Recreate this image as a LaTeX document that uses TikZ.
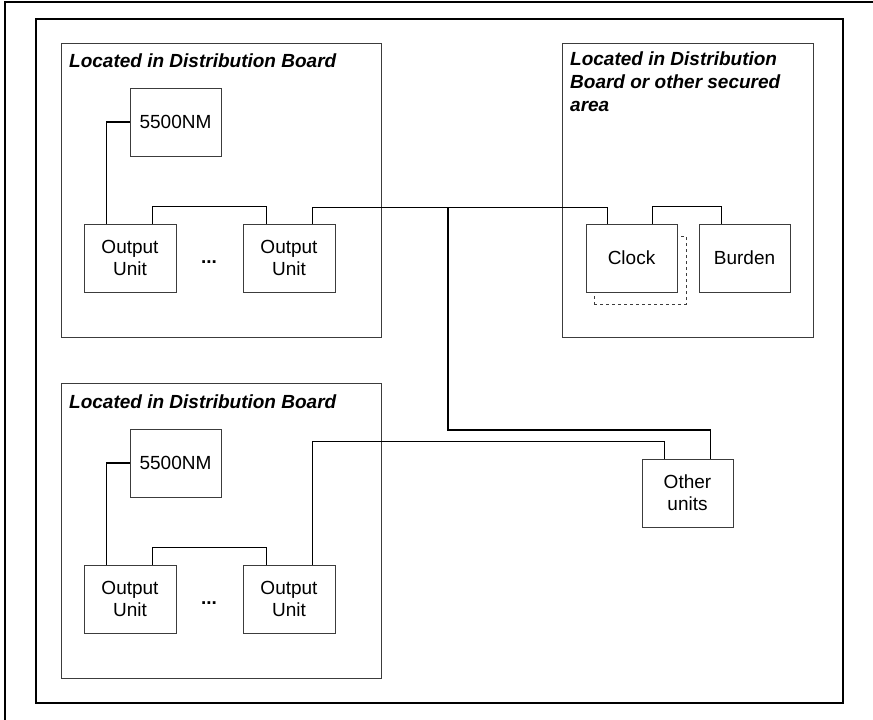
\documentclass[tikz,border=0pt]{standalone}
\usepackage{fontspec}
\setmainfont{Liberation Sans}
\usetikzlibrary{positioning, calc}
\definecolor{boxgray}{RGB}{60, 60, 60}

\begin{document}
\begin{tikzpicture}[
    x=1pt, y=-1pt,
    area/.style={rectangle, draw=boxgray, line width=1pt, minimum width=320pt, minimum height=294pt, inner sep=0pt},
    unit/.style={rectangle, draw=boxgray, fill=white, line width=1pt, minimum width=92pt, minimum height=68pt, align=center, inner sep=0pt, font=\fontsize{19}{22}\selectfont},
    title/.style={anchor=north west, inner sep=0pt, align=left, font=\fontsize{19}{23}\selectfont\bfseries\itshape},
    wire/.style={draw, line width=1.8pt},
    frame/.style={draw, line width=2.4pt}
]
    \useasboundingbox (0,0) rectangle (873,720);
    % Frames
    \draw[frame] (5,720) -- (5,2) -- (873,2);
    \draw[frame] (36,19) rectangle (843,703);

    % Areas
    \node[area] (boardA) at (221,190) {};
    \node[area, minimum width=251pt] (secure) at (687.5,190) {};
    \node[area, minimum height=295pt] (boardB) at (221,530.5) {};

    \node[title] (titleA) at (69,54) {Located in Distribution Board};
    \node[title] (titleS) at (570,52) {Located in Distribution\\Board or other secured\\area};
    \node[title] (titleB) at (69,395) {Located in Distribution Board};

    % Units, upper board
    \node[unit, minimum width=91pt] (nmA) at (175.5,122) {5500NM};
    \node[unit] (ouA1) at (130,258) {Output\\Unit};
    \node[unit] (ouA2) at (289,258) {Output\\Unit};
    \node[font=\fontsize{19}{22}\selectfont\bfseries] (dotsA) at (209,262) {...};

    % Units, lower board
    \node[unit, minimum width=91pt] (nmB) at (175.5,463) {5500NM};
    \node[unit] (ouB1) at (130,599) {Output\\Unit};
    \node[unit] (ouB2) at (289,599) {Output\\Unit};
    \node[font=\fontsize{19}{22}\selectfont\bfseries] (dotsB) at (209,603) {...};

    % Clock and burden
    \node[unit, dashed] (clockbak) at (640,270) {};
    \node[unit, minimum width=91pt] (clock) at (631.5,258) {Clock};
    \node[unit, minimum width=91pt] (burden) at (744.5,258) {Burden};
    \node[unit, minimum width=91pt] (other) at (687.5,493) {Other\\units};

    % Wires
    \draw[wire] (nmA.west) -| ([xshift=23pt]ouA1.north west);
    \draw[wire] ([xshift=69pt]ouA1.north west) -- ++(0,-17) -| ([xshift=24pt]ouA2.north west);
    \draw[wire] ([xshift=70pt]ouA2.north west) -- ++(0,-16) -| ([xshift=22pt]clock.north west);
    \coordinate (tap) at (448,208);
    \draw[wire] (tap) -- ++(0,222) -| ([xshift=69pt]other.north west);
    \draw[wire] ([xshift=67pt]clock.north west) -- ++(0,-17) -| ([xshift=23pt]burden.north west);

    \draw[wire] (nmB.west) -| ([xshift=23pt]ouB1.north west);
    \draw[wire] ([xshift=69pt]ouB1.north west) -- ++(0,-17) -| ([xshift=24pt]ouB2.north west);
    \draw[wire] ([xshift=70pt]ouB2.north west) -- ++(0,-123) -| ([xshift=23pt]other.north west);

\end{tikzpicture}
\end{document}
